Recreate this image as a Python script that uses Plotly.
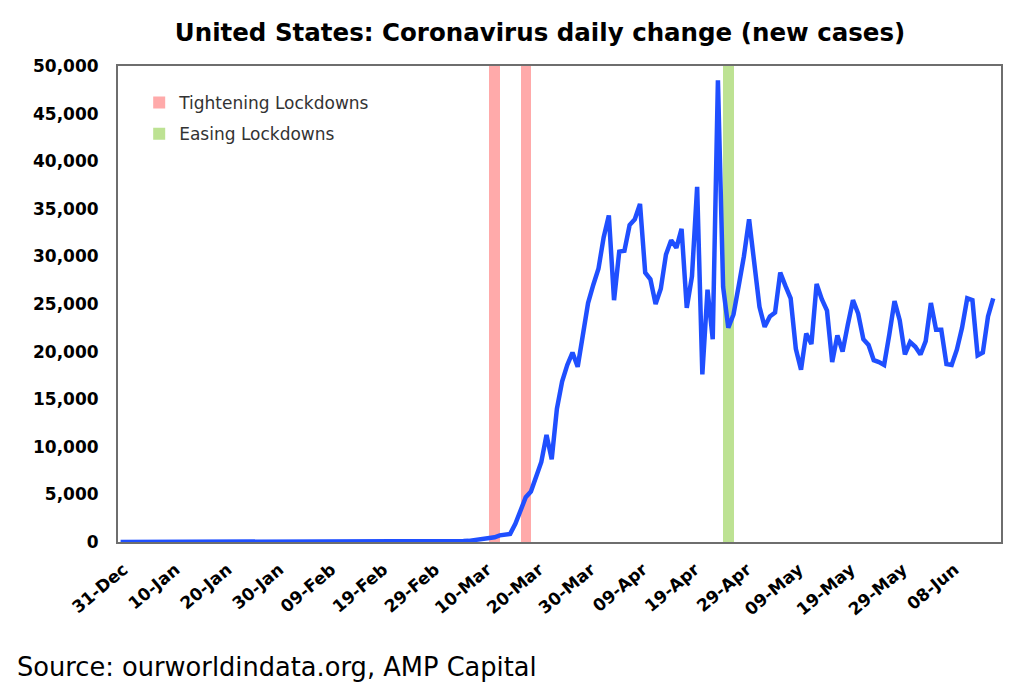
"""Recreate the AMP Capital chart of US daily new coronavirus cases.

Draws the daily change line with the lockdown tightening and easing
dates as shaded columns.
"""

import pandas as pd
import plotly.graph_objects as go

DAY_MS = 86400000

# First day of the series; one value per day after that
START_DATE = "2019-12-31"

# Daily new cases (31-Dec-2019 .. 16-Jun-2020)
NEW_CASES = [
    0, 0, 0, 0, 0, 0, 0, 0, 0, 0,
    0, 0, 0, 0, 0, 0, 0, 0, 0, 0,
    0, 1, 0, 0, 1, 0, 3, 0, 0, 0,
    0, 1, 1, 0, 0, 3, 0, 0, 0, 0,
    0, 0, 0, 0, 0, 0, 0, 1, 0, 0,
    0, 0, 0, 0, 0, 3, 5, 3, 8, 10,
    18, 25, 20, 30, 60, 70, 100, 120, 200, 270,
    290, 350, 500, 700, 800, 850, 1900, 3200, 4700, 5300,
    7000, 8400, 11250, 8700, 14000, 16850, 18600, 19900, 18400, 21700,
    25100, 27000, 28700, 32000, 34300, 25400, 30500, 30600, 33300, 33900,
    35500, 28300, 27600, 25000, 26600, 30200, 31700, 30900, 32900, 24600,
    27900, 37300, 17600, 26500, 21300, 48500, 26800, 22500, 23900, 26900,
    30000, 33900, 29000, 24700, 22600, 23700, 24100, 28300, 26900, 25600,
    20300, 18100, 21900, 20800, 27100, 25500, 24300, 18900, 21700, 20000,
    22800, 25400, 24000, 21300, 20700, 19100, 18900, 18600, 21800, 25300,
    23300, 19700, 21000, 20500, 19700, 21100, 25100, 22300, 22300, 18700,
    18600, 20200, 22500, 25600, 25400, 19600, 19900, 23700, 25600,
]

# Lockdown event dates (shown as full-height columns)
TIGHTENING_DATES = ["2020-03-12", "2020-03-18"]
EASING_DATES = ["2020-04-26"]
EVENT_HEIGHT = 50000

TITLE = "United States: Coronavirus daily change (new cases)"
SOURCE = "Source: ourworldindata.org, AMP Capital"


def build_figure() -> go.Figure:
    """Build the line chart with lockdown columns."""
    dates = pd.date_range(START_DATE, periods=len(NEW_CASES), freq="D")

    fig = go.Figure()

    fig.add_trace(
        go.Bar(
            x=TIGHTENING_DATES,
            y=[EVENT_HEIGHT] * len(TIGHTENING_DATES),
            width=2 * DAY_MS,
            name="Tightening Lockdowns",
            legendgroup="tightening",
            marker={"color": "#ffaaaa", "line": {"width": 0}},
            hoverinfo="skip",
        )
    )
    fig.add_trace(
        go.Bar(
            x=EASING_DATES,
            y=[EVENT_HEIGHT] * len(EASING_DATES),
            width=2 * DAY_MS,
            name="Easing Lockdowns",
            legendgroup="easing",
            marker={"color": "#bde293", "line": {"width": 0}},
            hoverinfo="skip",
        )
    )

    # Daily new cases
    fig.add_trace(
        go.Scatter(
            x=dates,
            y=NEW_CASES,
            mode="lines",
            name="New cases",
            line={"color": "#1f4fff", "width": 4.5},
            showlegend=False,
        )
    )

    axis_line = {"showline": True, "linecolor": "#6e6e6e", "linewidth": 2, "mirror": True}

    fig.update_xaxes(
        type="date",
        range=["2019-12-30 12:00", "2020-06-17 12:00"],
        tick0=START_DATE,
        dtick=10 * DAY_MS,
        tickformat="%d-%b",
        tickangle=-40,
        ticks="",
        ticklabelstandoff=9,
        ticklabelshift=3,
        showgrid=False,
        zeroline=False,
        tickfont={"family": "DejaVu Sans", "size": 17, "color": "#000000", "weight": "bold"},
        **axis_line,
    )
    fig.update_yaxes(
        range=[0, 50000],
        dtick=5000,
        tickformat=",",
        ticks="",
        showgrid=False,
        zeroline=False,
        ticklabelstandoff=14,
        tickfont={"family": "DejaVu Sans", "size": 17, "color": "#000000", "weight": "bold"},
        **axis_line,
    )

    fig.update_layout(
        width=1024,
        height=695,
        margin={"l": 118, "r": 23, "t": 66, "b": 153},
        paper_bgcolor="#ffffff",
        plot_bgcolor="#ffffff",
        barmode="overlay",
        bargap=0,
        title={
            "text": TITLE,
            "x": 540 / 1024,
            "xanchor": "center",
            "y": 1 - 32 / 695,
            "yanchor": "middle",
            "font": {"family": "DejaVu Sans", "size": 24.5, "color": "#000000", "weight": "bold"},
        },
        legend={
            "x": 0.024,
            "y": 0.96,
            "xanchor": "left",
            "yanchor": "top",
            "traceorder": "grouped",
            "tracegroupgap": 6,
            "bgcolor": "rgba(0,0,0,0)",
            "font": {"family": "DejaVu Sans", "size": 17, "color": "#333333"},
        },
        annotations=[
            {
                "text": SOURCE,
                "xref": "paper",
                "yref": "paper",
                "x": (15 - 118) / 883,
                "y": (541.5 - 666) / 475.8,
                "xanchor": "left",
                "yanchor": "middle",
                "showarrow": False,
                "font": {"family": "DejaVu Sans", "size": 25.7, "color": "#000000"},
            }
        ],
        showlegend=True,
    )
    return fig


def main():
    fig = build_figure()
    fig.write_html(
        "out.html",
        config={"displayModeBar": False},
        post_script="document.body.style.margin='0';",
    )


if __name__ == "__main__":
    main()
